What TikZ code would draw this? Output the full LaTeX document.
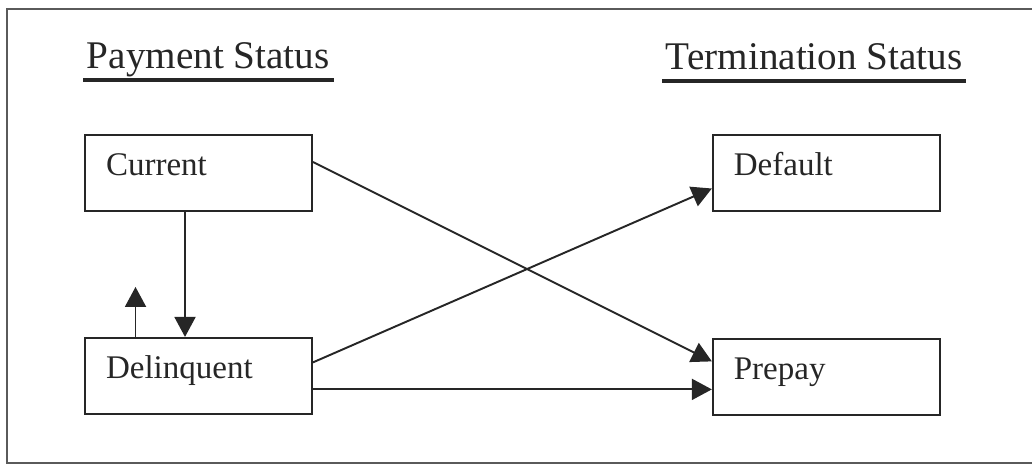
\documentclass[tikz,border=0pt]{standalone}
\usepackage{fontspec}
\setmainfont{Liberation Serif}
\usepackage{tikz}
\usetikzlibrary{arrows.meta,positioning}
\definecolor{Ink}{HTML}{262626}
\definecolor{Frame}{HTML}{5A5A5A}

\begin{document}
\begin{tikzpicture}[x=0.02cm, y=-0.02cm, >={Triangle[length=0.4cm,width=0.42cm]}, line width=1.1pt, color=Ink]
\tikzset{box/.style={draw=Ink, minimum width=4.54cm, minimum height=1.52cm, text width=3.7cm, inner xsep=0.42cm, align=left, text height=0.4cm, text depth=0.28cm, font=\fontsize{18.8}{22}\selectfont}, head/.style={inner xsep=0.06cm, inner ysep=0pt, text depth=0.2cm, font=\fontsize{22.3}{26}\selectfont}}
\useasboundingbox (0,0) rectangle (1032,466);
\draw[Frame, line width=0.8pt] (1032,9) -| (7,463) -- (1032,463);
\node[head, anchor=base west] (pay) at (83,69) {Payment Status};
\node[head, anchor=base west] (term) at (662,70) {Termination Status};
\draw[line width=1.8pt] (pay.south west) -- (pay.south east);
\draw[line width=1.8pt] (term.south west) -- (term.south east);
\node[box] (cur) at (198.5,173) {Current};
\node[box, below=2.5cm of cur] (del) {Delinquent};
\node[box, right=7.98cm of cur] (dflt) {Default};
\node[box, below=2.52cm of dflt] (prep) {Prepay};
\draw[->] ([xshift=-0.27cm]cur.south) -- ([xshift=-0.27cm]del.north);
\coordinate (back) at ([xshift=-1.26cm, yshift=1cm]del.north);
\draw[->] (back |- del.north) -- (back);
\foreach \a/\sa/\b/\sb in {cur/0.22/prep/0.31, del/0.27/dflt/-0.31, del/-0.27/prep/-0.25} \draw[->] ([yshift=\sa cm]\a.east) -- ([yshift=\sb cm]\b.west);
\end{tikzpicture}
\end{document}
